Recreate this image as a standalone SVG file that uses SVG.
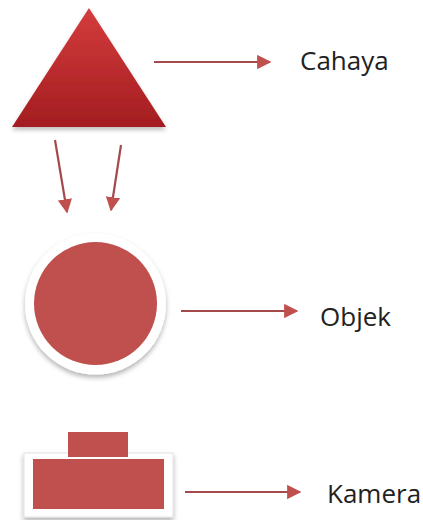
<svg xmlns="http://www.w3.org/2000/svg" width="423" height="520" viewBox="0 0 423 520">
  <defs>
    <linearGradient id="triFill" x1="0" y1="0" x2="0" y2="1">
      <stop offset="0" stop-color="#d43c3c"/>
      <stop offset="1" stop-color="#a31d21"/>
    </linearGradient>
    <filter id="soft" x="-20%" y="-20%" width="140%" height="150%">
      <feDropShadow dx="0" dy="3" stdDeviation="2.5" flood-color="#000" flood-opacity="0.3"/>
    </filter>
    <filter id="triShadow" x="-10%" y="-10%" width="120%" height="130%">
      <feDropShadow dx="0" dy="3" stdDeviation="2" flood-color="#000" flood-opacity="0.25"/>
    </filter>
    <marker id="head" viewBox="0 0 10 10" refX="9" refY="5" markerWidth="6.5" markerHeight="6.5" markerUnits="strokeWidth" orient="auto">
      <path d="M0,0 L10,5 L0,10 z" fill="#c0504d"/>
    </marker>
  </defs>
  <style>
    .conn { stroke: #a34a4a; stroke-width: 2.2; fill: none; marker-end: url(#head); }
    .red { fill: #c0504d; }
    .label { font-family: "Open Sans", "Liberation Sans", sans-serif; font-size: 26px; fill: #222; }
  </style>

  <!-- light source -->
  <g id="cahaya-shape">
    <polygon points="89,8 166,127 12,127" fill="url(#triFill)" filter="url(#triShadow)"/>
  </g>

  <!-- object -->
  <g id="objek-shape">
    <circle cx="95.5" cy="304" r="70.5" fill="#fff" filter="url(#soft)"/>
    <circle class="red" cx="95.5" cy="303.5" r="61.5"/>
  </g>

  <!-- camera -->
  <g id="kamera-shape">
    <rect x="24" y="453" width="149" height="64" fill="#fff" stroke="#e2e2e2" stroke-width="1" filter="url(#soft)"/>
    <rect class="red" x="33" y="459" width="131" height="50"/>
    <rect class="red" x="68" y="432" width="60" height="25"/>
  </g>

  <!-- labels -->
  <g id="cahaya"><text class="label" x="300" y="70">Cahaya</text></g>
  <g id="objek"><text class="label" x="320" y="326">Objek</text></g>
  <g id="kamera"><text class="label" x="327" y="503">Kamera</text></g>

  <!-- connectors -->
  <g id="connectors">
    <line class="conn" x1="154" y1="62" x2="270" y2="62"/>
    <line class="conn" x1="181" y1="311" x2="297" y2="311"/>
    <line class="conn" x1="185" y1="492" x2="300" y2="492"/>
    <line class="conn" x1="55" y1="140" x2="67" y2="212"/>
    <line class="conn" x1="121" y1="145" x2="111" y2="210"/>
  </g>
</svg>
